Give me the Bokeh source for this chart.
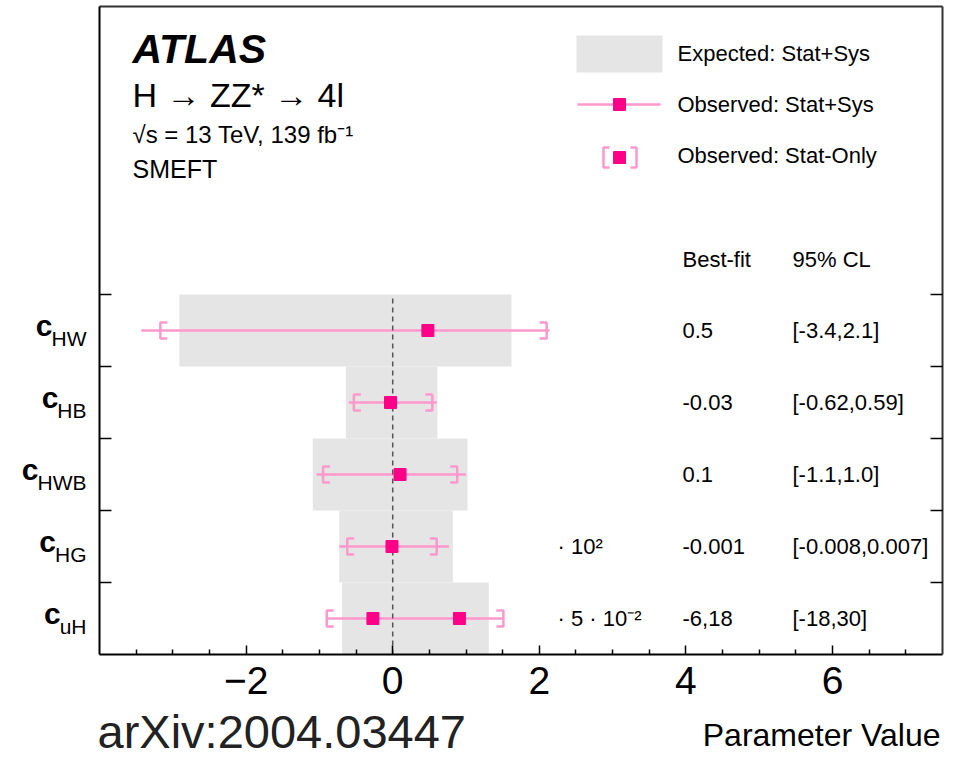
from bokeh.plotting import figure
from bokeh.models import Range1d, FixedTicker, LinearAxis
from bokeh.embed import file_html
from bokeh.resources import INLINE
from bokeh.core.properties import value

# ---------------- data ----------------
params = ["HW", "HB", "HWB", "HG", "uH"]
exp_lo = [-2.91, -0.64, -1.09, -0.73, -0.69]      # expected stat+sys band
exp_hi = [1.62, 0.61, 1.02, 0.82, 1.31]
obs_lo = [-3.43, -0.60, -1.04, -0.73, -0.90]      # observed stat+sys
obs_hi = [2.14, 0.60, 1.00, 0.77, 1.51]
stat_lo = [-3.17, -0.53, -0.95, -0.62, -0.90]     # observed stat-only
stat_hi = [2.10, 0.54, 0.88, 0.60, 1.51]
best_param = ["HW", "HB", "HWB", "HG", "uH", "uH"]
best_val = [0.48, -0.03, 0.10, -0.01, -0.27, 0.91]
best_fit_text = ["0.5", "-0.03", "0.1", "-0.001", "-6,18"]
cl_text = ["[-3.4,2.1]", "[-0.62,0.59]", "[-1.1,1.0]", "[-0.008,0.007]", "[-18,30]"]
scale_param = ["HG", "uH"]
scale_text = ["\u00b7 10\u00b2", "\u00b7 5 \u00b7 10\u207b\u00b2"]
x_major = [-2, 0, 2, 4, 6]
x_major_labels = ["\u22122", "0", "2", "4", "6"]
x_minor = [-3.5, -3.0, -2.5, -1.5, -1.0, -0.5, 0.5, 1.0, 1.5, 2.5, 3.0, 3.5,
           4.5, 5.0, 5.5, 6.5, 7.0]

# ---------------- layout constants ----------------
W, H = 956, 759
FL, FR, FT, FB = 99, 942, 6, 654      # plot box in page pixels
XMIN, XMAX = -4.0, 7.5
YMIN, YMAX = 0.0, 9.0
FONT = "Liberation Sans"
GRAY = "#e5e5e5"
PINK_LINE = "#ff99cc"
PINK_MARK = "#ff0088"

DX = (XMAX - XMIN) / (FR - FL)   # data units per pixel
DY = (YMAX - YMIN) / (FB - FT)


def px2x(px):
    return XMIN + (px - FL) * DX


def px2y(py):
    return YMIN + (FB - py) * DY


def mid(baseline_px, size):
    # y (data) of the em-box middle for a text whose baseline is at baseline_px
    return px2y(baseline_px - 0.35 * size)


n = len(params)
row_y = {pname: n - i - 0.5 for i, pname in enumerate(params)}
ys = [row_y[q] for q in params]

# the frame covers the whole canvas; the axes sit at fixed data locations
p = figure(width=W, height=H,
           x_range=Range1d(XMIN - FL * DX, XMAX + (W - FR) * DX),
           y_range=Range1d(YMIN - (H - FB) * DY, YMAX + FT * DY),
           output_backend="svg", toolbar_location=None, min_border=0)
p.grid.visible = False
p.background_fill_color = "white"
p.border_fill_color = "white"
p.outline_line_color = None

# x axis (bottom of the box)
xa = p.xaxis[0]
xa.fixed_location = YMIN
xa.bounds = (XMIN, XMAX)
xa.ticker = FixedTicker(ticks=x_major, minor_ticks=x_minor)
xa.major_label_overrides = {float(v): t for v, t in zip(x_major, x_major_labels)}
xa.major_tick_in = 9
xa.major_tick_out = 0
xa.minor_tick_in = 5
xa.minor_tick_out = 0
xa.major_tick_line_width = 1.5
xa.minor_tick_line_width = 1.5
xa.major_tick_line_color = "black"
xa.minor_tick_line_color = "black"
xa.axis_line_width = 2
xa.axis_line_color = "black"
xa.major_label_text_font = FONT
xa.major_label_text_font_size = "39px"
xa.major_label_text_color = "black"
xa.major_label_standoff = 12

# y axes (left + right): ticks at row boundaries, no labels
ytick = [1, 2, 3, 4, 5]
ya_l = p.yaxis[0]
ya_r = LinearAxis()
p.add_layout(ya_r, "right")
for ax, loc, col in ((ya_l, XMIN, "black"), (ya_r, XMAX, "#333333")):
    ax.fixed_location = loc
    ax.bounds = (YMIN, YMAX)
    ax.ticker = FixedTicker(ticks=ytick, minor_ticks=[])
    ax.major_label_overrides = {float(t): "" for t in ytick}
    ax.major_tick_in = 12
    ax.major_tick_out = 0
    ax.minor_tick_in = 0
    ax.minor_tick_out = 0
    ax.major_tick_line_width = 1.5
    ax.major_tick_line_color = "black"
    ax.major_label_standoff = 0
    ax.axis_line_width = 2
    ax.axis_line_color = col

# top edge of the box
xa_t = LinearAxis(fixed_location=YMAX, bounds=(XMIN, XMAX),
                  ticker=FixedTicker(ticks=[], minor_ticks=[]),
                  axis_line_width=2, axis_line_color="#333333",
                  major_tick_line_color=None, minor_tick_line_color=None)
p.add_layout(xa_t, "above")

# expected band
p.quad(left=exp_lo, right=exp_hi, bottom=[y - 0.5 for y in ys], top=[y + 0.5 for y in ys],
       fill_color=GRAY, line_color=None, level="underlay")

# observed stat+sys lines
p.segment(x0=obs_lo, y0=ys, x1=obs_hi, y1=ys, line_color=PINK_LINE, line_width=2.5)

# stat-only brackets
ARM = 7 * DX
HALF = 8 * DY
bx, by = [], []
for lo, hi, y in zip(stat_lo, stat_hi, ys):
    bx.append([lo + ARM, lo, lo, lo + ARM])
    by.append([y + HALF, y + HALF, y - HALF, y - HALF])
    bx.append([hi - ARM, hi, hi, hi - ARM])
    by.append([y + HALF, y + HALF, y - HALF, y - HALF])
p.multi_line(xs=bx, ys=by, line_color=PINK_LINE, line_width=2.5)

# zero line
p.segment(x0=[0], y0=[0], x1=[0], y1=[n], line_color="#555555", line_width=1.5,
          line_dash="5 4")

# best-fit markers
p.scatter(x=best_val, y=[row_y[q] for q in best_param], marker="square", size=12,
          fill_color=PINK_MARK, line_color=PINK_MARK)

# table of numbers
TXT = dict(text_font=value(FONT), text_font_size="22px", text_color="black",
           text_baseline="middle")
p.text(x=[px2x(682)] * n, y=ys, text=best_fit_text, **TXT)
p.text(x=[px2x(792)] * n, y=ys, text=cl_text, **TXT)
p.text(x=[px2x(557)] * len(scale_param), y=[row_y[q] for q in scale_param],
       text=scale_text, **TXT)
p.text(x=[px2x(682), px2x(792)], y=[px2y(259)] * 2, text=["Best-fit", "95% CL"], **TXT)

# legend
p.quad(left=[px2x(576)], right=[px2x(662)], top=[px2y(35)], bottom=[px2y(72)],
       fill_color=GRAY, line_color=None)
p.segment(x0=[px2x(577)], y0=[px2y(104)], x1=[px2x(660)], y1=[px2y(104)],
          line_color=PINK_LINE, line_width=2.5)
p.scatter(x=[px2x(619)], y=[px2y(104)], marker="square", size=12,
          fill_color=PINK_MARK, line_color=PINK_MARK)
lyc = px2y(157)
lh = 10 * DY
p.multi_line(xs=[[px2x(609), px2x(603), px2x(603), px2x(609)],
                 [px2x(630), px2x(636), px2x(636), px2x(630)]],
             ys=[[lyc + lh, lyc + lh, lyc - lh, lyc - lh]] * 2,
             line_color=PINK_LINE, line_width=2.5)
p.scatter(x=[px2x(619)], y=[lyc], marker="square", size=12,
          fill_color=PINK_MARK, line_color=PINK_MARK)
p.text(x=[px2x(677)] * 3, y=[px2y(53), px2y(104), px2y(155)],
       text=["Expected: Stat+Sys", "Observed: Stat+Sys", "Observed: Stat-Only"], **TXT)

# header texts
HDR = dict(text_font=value(FONT), text_color="black", text_baseline="middle")
p.text(x=[px2x(132)], y=[mid(63, 41)], text=["ATLAS"], text_font_size="41px",
       text_font_style="bold italic", **HDR)
p.text(x=[px2x(132)], y=[mid(106, 34)], text=["H \u2192 ZZ* \u2192 4l"],
       text_font_size="34px", **HDR)
p.text(x=[px2x(132)], y=[mid(142, 24)], text=["\u221as = 13 TeV, 139 fb\u207b\u00b9"],
       text_font_size="24px", **HDR)
p.text(x=[px2x(132)], y=[mid(177, 25)], text=["SMEFT"], text_font_size="25px", **HDR)

# parameter names c_X, right-aligned left of the box
SUB_W = {"H": 0.722, "W": 0.944, "B": 0.667, "G": 0.778, "u": 0.556}
SUB_SIZE = 21
C_SIZE = 30
RIGHT = 86
sub_x = [px2x(RIGHT)] * n
c_x = [px2x(RIGHT - sum(SUB_W[ch] for ch in q) * SUB_SIZE + 1) for q in params]
p.text(x=sub_x, y=ys, text=params, text_font=value(FONT),
       text_font_size=f"{SUB_SIZE}px", text_align="right", text_baseline="middle",
       y_offset=15 - 0.35 * SUB_SIZE, text_color="black")
p.text(x=c_x, y=ys, text=["c"] * n, text_font=value(FONT), text_font_size=f"{C_SIZE}px",
       text_font_style="bold", text_align="right", text_baseline="middle",
       y_offset=5 - 0.35 * C_SIZE, text_color="black")

# footer texts
p.text(x=[px2x(97)], y=[mid(747, 47)], text=["arXiv:2004.03447"], text_font=value(FONT),
       text_font_size="47px", text_color="#222222", text_baseline="middle")
p.text(x=[px2x(940)], y=[mid(746, 32)], text=["Parameter Value"], text_font=value(FONT),
       text_font_size="32px", text_color="black", text_align="right",
       text_baseline="middle")

open("out.html", "w").write(file_html(p, INLINE))
